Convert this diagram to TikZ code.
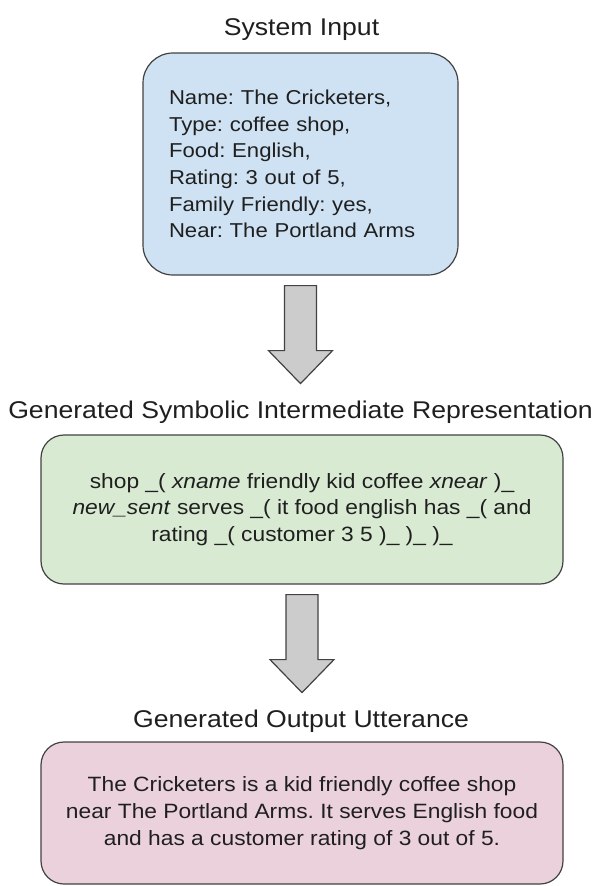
\documentclass[tikz,border=0pt]{standalone}
\usepackage{fontspec}
\setmainfont{Liberation Sans}[FakeStretch=1.1]
\usepackage{tikz}
\usetikzlibrary{calc}
\definecolor{inputFill}{HTML}{CFE2F3}
\definecolor{interFill}{HTML}{D9EAD3}
\definecolor{outputFill}{HTML}{EAD1DC}
\definecolor{arrowFill}{HTML}{CCCCCC}
\definecolor{boxBorder}{HTML}{424242}
\colorlet{textColor}{black!88}

\begin{document}
\begin{tikzpicture}[
  x=1pt,
  y=-1pt,
  every box/.style={
    draw=boxBorder,
    line width=1.2pt,
    text=textColor,
    font=\fontsize{20.7}{26.7}\selectfont\frenchspacing,
  },
  input box/.style={
    every box/.try,
    fill=inputFill,
    rounded corners=30pt,
    font=\fontsize{20.1}{26.7}\selectfont\frenchspacing,
    inner xsep=26pt,
    text width=263pt,
    minimum width=315pt,
    minimum height=222pt,
    align=left,
  },
  inter box/.style={
    every box/.try,
    fill=interFill,
    rounded corners=23pt,
    minimum width=522pt,
    minimum height=149pt,
    align=center,
  },
  output box/.style={
    every box/.try,
    fill=outputFill,
    rounded corners=23pt,
    minimum width=522pt,
    minimum height=142pt,
    align=center,
  },
  heading/.style={
    anchor=base,
    text=textColor,
    font=\fontsize{24.2}{28}\selectfont,
  },
  block arrow/.style={
    draw=boxBorder,
    fill=arrowFill,
    line width=1.2pt,
  }
]
\useasboundingbox (0,0) rectangle (598,886);
\node[heading] (inputTitle) at (301.5,35) {System Input};
\node[input box] (input) at (300.5,164)
  {Name: The Cricketers,\\Type: coffee shop,\\Food: English,\\Rating: 3 out of 5,\\Family Friendly: yes,\\Near: The Portland Arms};
\node[heading] (interTitle) at (300.5,418) {Generated Symbolic Intermediate Representation};
\node[inter box] (inter) at (302,509.5)
  {shop \_( \textit{xname} friendly kid coffee \textit{xnear} )\_\\
   \textit{new\_sent} serves \_( it food english has \_( and\\
   rating \_( customer 3 5 )\_ )\_ )\_};
\node[heading] (outputTitle) at (301,727) {Generated Output Utterance};
\node[output box] (output) at (302,813)
  {The Cricketers is a kid friendly coffee shop\\
   near The Portland Arms. It serves English food\\
   and has a customer rating of 3 out of 5.};
\foreach \b/\gap in {input/10,inter/10}
{
  \draw[block arrow] ($(\b.south)+(-16,\gap)$) -- ++(0,65) -- ++(-16,0)
    -- ++(32,33) -- ++(32,-33) -- ++(-16,0) -- ++(0,-65) -- cycle;
}
\end{tikzpicture}
\end{document}
